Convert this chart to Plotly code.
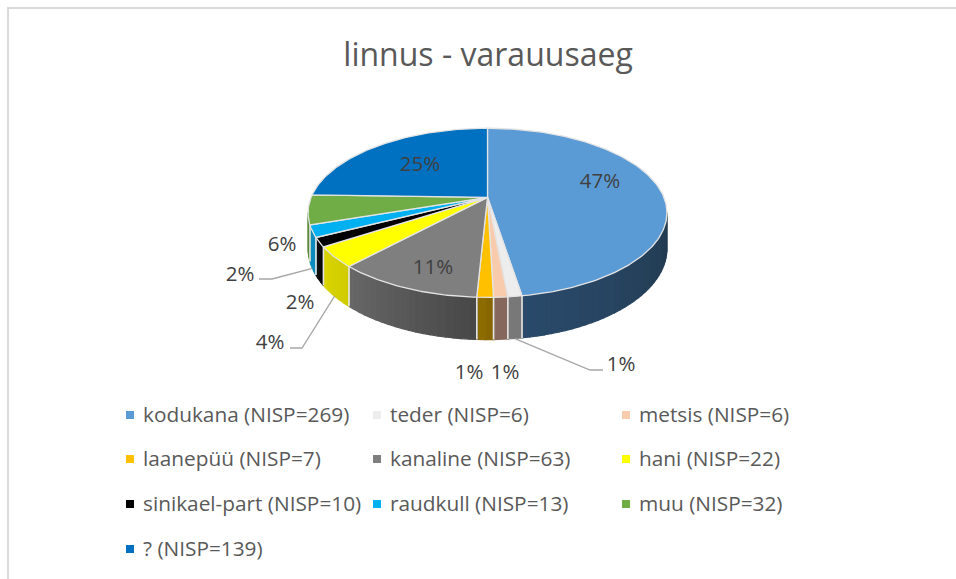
import math
import plotly.graph_objects as go

title = 'linnus - varauusaeg'
names = ['kodukana', 'teder', 'metsis', 'laanepüü', 'kanaline', 'hani',
         'sinikael-part', 'raudkull', 'muu', '?']
nisp = [269, 6, 6, 7, 63, 22, 10, 13, 32, 139]
top_colors = ['#5B9BD5', '#EDEDED', '#F8CBAD', '#FFC000', '#7F7F7F', '#FFFF00',
              '#000000', '#00B0F0', '#70AD47', '#0070C0']
wall_left = ['#2A4A6B', '#7C7C7C', '#8A6C5C', '#8F6D00', '#686868', '#DAD400',
             '#111111', '#0A8FC4', '#5A8A3A', '#00508A']
wall_right = ['#223A4F', '#737373', '#80655A', '#846400', '#474747', '#CFCB00',
              '#050505', '#1089BA', '#5A8A3A', '#00508A']

# label placement, in page pixels
label_pos = [(600, 183), (621, 366), (505, 374), (469, 374), (433, 269),
             (270, 344), (300, 304), (240, 276), (282, 246), (420, 166)]
leaders = {1: [(590, 370), (603, 370)], 5: [(302, 348), (290, 348)], 7: [(272, 279), (259, 279)]}

text_color = '#595959'
font = 'Open Sans'

# pie projection (perspective tilt), page pixels
cx, cy = 487.5, 197.3
rx, ry, persp = 176.4, 81.7, 0.1834
depth = 34.5


def rim(a, drop=0.0):
    s, c = math.sin(a), math.cos(a)
    w = 1 + persp * c
    return cx + rx * s / w, cy + ry * -c / w + drop / w


def arc(a0, a1, drop=0.0, n=None):
    n = n or max(2, int(abs(a1 - a0) * 60))
    pts = [rim(a0 + (a1 - a0) * i / n, drop) for i in range(n + 1)]
    return pts


total = sum(nisp)
angles = [0.0]
for v in nisp:
    angles.append(angles[-1] + v / total * 2 * math.pi)

fig = go.Figure()
edge = '#E4E4E4'
vis_lo = math.acos(-persp)
vis_hi = 2 * math.pi - vis_lo


def mix(c0, c1, t):
    a = [int(c0[i:i + 2], 16) for i in (1, 3, 5)]
    b = [int(c1[i:i + 2], 16) for i in (1, 3, 5)]
    return '#%02x%02x%02x' % tuple(round(a[i] + (b[i] - a[i]) * t) for i in range(3))


# side wall, split in strips for the shading
for i in range(len(nisp)):
    a0, a1 = max(angles[i], vis_lo), min(angles[i + 1], vis_hi)
    if a1 <= a0:
        continue
    strips = max(1, int((a1 - a0) * 28))
    for k in range(strips):
        b0 = a0 + (a1 - a0) * k / strips
        b1 = a0 + (a1 - a0) * (k + 1) / strips
        upper = arc(b0, b1)
        lower = arc(b1, b0, depth)
        pts = upper + lower + upper[:1]
        # shading runs left to right on screen, slice order is right to left
        col = mix(wall_left[i], wall_right[i], 1 - (k + 0.5) / strips)
        fig.add_trace(go.Scatter(x=[p[0] for p in pts], y=[p[1] for p in pts], mode='lines',
                                 fill='toself', fillcolor=col, line=dict(color=col, width=1.2),
                                 hoverinfo='skip', showlegend=False))
    for b in (a0, a1):
        if vis_lo < b < vis_hi:
            p, q = rim(b), rim(b, depth)
            fig.add_trace(go.Scatter(x=[p[0], q[0]], y=[p[1], q[1]], mode='lines',
                                     line=dict(color=edge, width=1.5),
                                     hoverinfo='skip', showlegend=False))

# top face
for i, name in enumerate(names):
    pts = [(cx, cy)] + arc(angles[i], angles[i + 1]) + [(cx, cy)]
    fig.add_trace(go.Scatter(x=[p[0] for p in pts], y=[p[1] for p in pts], mode='lines',
                             fill='toself', fillcolor=top_colors[i],
                             line=dict(color=edge, width=1.3), name=name,
                             hovertemplate=name + ': %{text}<extra></extra>',
                             text=[str(nisp[i])] * len(pts), showlegend=False))

# leader lines from the rim out to the labels
for i, mid in leaders.items():
    a = (angles[i] + angles[i + 1]) / 2
    p = rim(a, depth)
    xs = [p[0]] + [m[0] for m in mid]
    ys = [p[1]] + [m[1] for m in mid]
    fig.add_trace(go.Scatter(x=xs, y=ys, mode='lines', line=dict(color='#A6A6A6', width=1.3),
                             hoverinfo='skip', showlegend=False))

# percent labels
fig.add_trace(go.Scatter(x=[p[0] for p in label_pos], y=[p[1] for p in label_pos], mode='text',
                         text=['%d%%' % round(v / total * 100) for v in nisp],
                         textposition='middle center',
                         textfont=dict(family=font, size=20.5, color='#404040'),
                         hoverinfo='skip', showlegend=False))

# legend grid
col_x = [130, 377, 626]
row_y = [415, 459, 504, 549]
leg_x = [col_x[i % 3] for i in range(len(names))]
leg_y = [row_y[i // 3] for i in range(len(names))]
fig.add_trace(go.Scatter(x=leg_x, y=leg_y, mode='markers',
                         marker=dict(symbol='square', size=8, color=top_colors),
                         hoverinfo='skip', showlegend=False))
fig.add_trace(go.Scatter(x=[x + 13 for x in leg_x], y=[y + 2 for y in leg_y], mode='text',
                         text=['%s (NISP=%d)' % (n, v) for n, v in zip(names, nisp)],
                         textposition='middle right',
                         textfont=dict(family=font, size=20.8, color=text_color),
                         hoverinfo='skip', showlegend=False))

fig.update_layout(
    width=956, height=579,
    margin=dict(l=0, r=0, t=0, b=0),
    paper_bgcolor='white', plot_bgcolor='white',
    xaxis=dict(range=[0, 956], visible=False, domain=[0, 1]),
    yaxis=dict(range=[579, 0], visible=False, domain=[0, 1]),
    title=dict(text=title, x=0.5105, xanchor='center', y=0.905, yanchor='middle',
               font=dict(family=font, size=32, color=text_color)),
    showlegend=False,
    shapes=[
        dict(type='line', xref='x', yref='y', x0=8, x1=8, y0=7, y1=579,
             line=dict(color='#D9D9D9', width=2)),
        dict(type='line', xref='x', yref='y', x0=7, x1=956, y0=8, y1=8,
             line=dict(color='#D9D9D9', width=2)),
    ],
)

# drop the default 8px page margin so page pixels and axis units agree
fig.write_html('out.html', config={'displayModeBar': False},
               post_script="document.body.style.margin='0';")
